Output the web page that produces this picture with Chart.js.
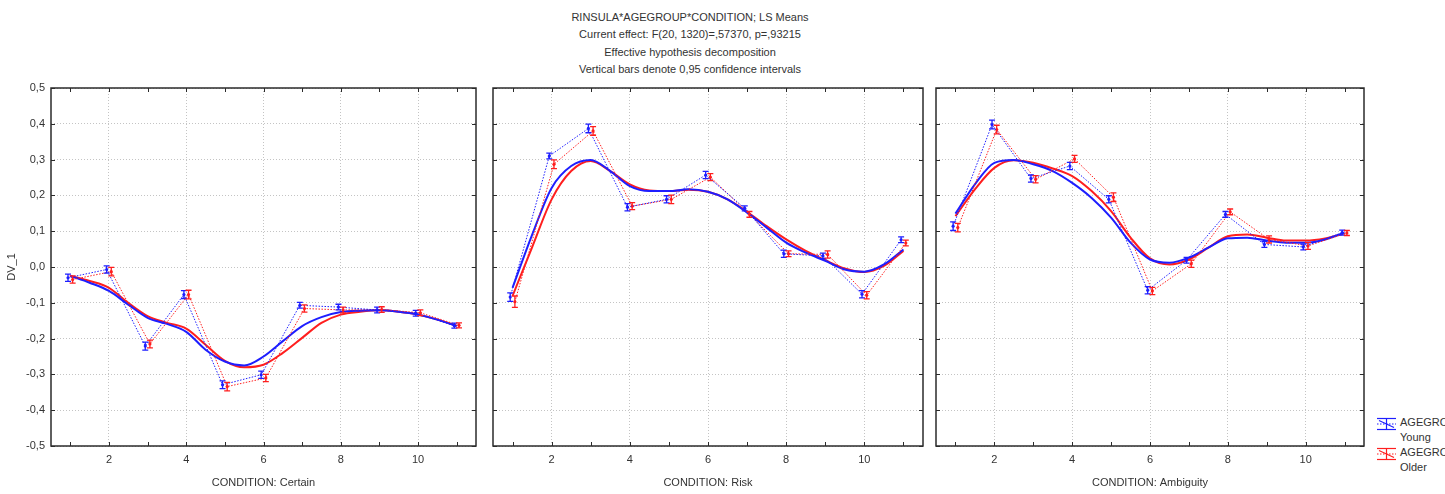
<!DOCTYPE html>
<html lang="en">
<head>
    <meta charset="UTF-8">
    <title>RINSULA*AGEGROUP*CONDITION; LS Means</title>
    <script src="https://cdn.jsdelivr.net/npm/chart.js"></script>
    <style>
        body {
            margin: 0;
            width: 1445px;
            height: 494px;
            overflow: hidden;
            background: #fff;
            font-family: 'Liberation Sans', Arial, sans-serif;
            color: #333;
            position: relative;
        }
        .panel { position: absolute; top: 0; height: 494px; }
        #heading {
            position: absolute;
            left: 490px;
            top: 9px;
            width: 400px;
            text-align: center;
            font-size: 11px;
            line-height: 17.4px;
        }
        #legend {
            position: absolute;
            left: 1376px;
            top: 415px;
            font-size: 11px;
            line-height: 15px;
            white-space: nowrap;
        }
        #legend .row { display: flex; align-items: flex-start; }
        #legend svg { margin-right: 3px; margin-top: 2px; flex: none; }
    </style>
</head>
<body>
    <div id="heading">
        <div>RINSULA*AGEGROUP*CONDITION; LS Means</div>
        <div>Current effect: F(20, 1320)=,57370, p=,93215</div>
        <div>Effective hypothesis decomposition</div>
        <div>Vertical bars denote 0,95 confidence intervals</div>
    </div>

    <div class="panel" style="left:0;width:480px"><canvas id="chartCertain"></canvas></div>
    <div class="panel" style="left:480px;width:450px"><canvas id="chartRisk"></canvas></div>
    <div class="panel" style="left:930px;width:440px"><canvas id="chartAmbiguity"></canvas></div>

    <div id="legend">
        <div class="row">
            <svg width="21" height="14" viewBox="0 0 21 14">
                <g stroke="rgb(30,30,255)" stroke-width="1.2" fill="none">
                    <line x1="1" y1="1.5" x2="20" y2="1.5"/>
                    <line x1="1" y1="12.5" x2="20" y2="12.5"/>
                    <line x1="10.5" y1="1.5" x2="10.5" y2="12.5"/>
                    <line x1="3" y1="3.5" x2="18" y2="10.5"/>
                    <line x1="1" y1="7" x2="20" y2="7" stroke-dasharray="1.5 1.5"/>
                </g>
            </svg>
            <div>AGEGROUP<br>Young</div>
        </div>
        <div class="row">
            <svg width="21" height="14" viewBox="0 0 21 14">
                <g stroke="rgb(255,30,30)" stroke-width="1.2" fill="none">
                    <line x1="1" y1="1.5" x2="20" y2="1.5"/>
                    <line x1="1" y1="12.5" x2="20" y2="12.5"/>
                    <line x1="10.5" y1="1.5" x2="10.5" y2="12.5"/>
                    <line x1="3" y1="3.5" x2="18" y2="10.5"/>
                    <line x1="1" y1="7" x2="20" y2="7" stroke-dasharray="1.5 1.5"/>
                </g>
            </svg>
            <div>AGEGROUP<br>Older</div>
        </div>
    </div>

    <script>
        // condition levels and the x positions where the smoothed fit was read
        const conditions = [1, 2, 3, 4, 5, 6, 7, 8, 9, 10, 11];
        const fitX = [1, 1.5, 2, 2.5, 3, 3.5, 4, 4.5, 5, 5.5, 6, 6.5, 7, 7.5, 8, 8.5, 9, 9.5, 10, 10.5, 11];
        const yTicks = [-0.5, -0.4, -0.3, -0.2, -0.1, 0, 0.1, 0.2, 0.3, 0.4, 0.5];

        // CONDITION: Certain
        const certainYoung = [-0.030, -0.007, -0.221, -0.077, -0.329, -0.301, -0.107, -0.112, -0.120, -0.129, -0.164];
        const certainOlder = [-0.035, -0.013, -0.215, -0.077, -0.334, -0.310, -0.116, -0.120, -0.119, -0.128, -0.163];
        const certainYoungErr = [0.010, 0.010, 0.011, 0.011, 0.011, 0.010, 0.008, 0.008, 0.008, 0.008, 0.007];
        const certainOlderErr = [0.010, 0.012, 0.011, 0.012, 0.012, 0.010, 0.010, 0.008, 0.008, 0.008, 0.007];
        const certainYoungFit = [-0.025, -0.044, -0.067, -0.105, -0.142, -0.159, -0.181, -0.231, -0.264, -0.275, -0.250,
                                 -0.207, -0.165, -0.140, -0.126, -0.122, -0.121, -0.125, -0.133, -0.147, -0.165];
        const certainOlderFit = [-0.025, -0.039, -0.058, -0.100, -0.137, -0.156, -0.172, -0.217, -0.262, -0.280, -0.273,
                                 -0.240, -0.198, -0.156, -0.133, -0.125, -0.121, -0.125, -0.133, -0.147, -0.164];

        // CONDITION: Risk
        const riskYoung = [-0.084, 0.310, 0.387, 0.167, 0.189, 0.257, 0.164, 0.037, 0.031, -0.076, 0.076];
        const riskOlder = [-0.097, 0.287, 0.380, 0.170, 0.189, 0.251, 0.147, 0.037, 0.035, -0.079, 0.067];
        const riskYoungErr = [0.012, 0.008, 0.012, 0.010, 0.010, 0.010, 0.007, 0.010, 0.008, 0.010, 0.008];
        const riskOlderErr = [0.016, 0.012, 0.012, 0.010, 0.012, 0.010, 0.008, 0.008, 0.010, 0.010, 0.008];
        const riskYoungFit = [-0.058, 0.090, 0.221, 0.282, 0.299, 0.268, 0.226, 0.212, 0.212, 0.217, 0.210,
                              0.189, 0.152, 0.110, 0.068, 0.040, 0.017, -0.007, -0.013, 0.007, 0.049];
        const riskOlderFit = [-0.081, 0.055, 0.189, 0.268, 0.296, 0.268, 0.231, 0.214, 0.212, 0.216, 0.210,
                              0.189, 0.154, 0.114, 0.077, 0.045, 0.019, -0.004, -0.014, 0.003, 0.045];

        // CONDITION: Ambiguity
        const ambiguityYoung = [0.114, 0.398, 0.247, 0.282, 0.189, -0.065, 0.019, 0.147, 0.063, 0.056, 0.096];
        const ambiguityOlder = [0.110, 0.384, 0.245, 0.302, 0.195, -0.067, 0.009, 0.154, 0.077, 0.059, 0.095];
        const ambiguityYoungErr = [0.012, 0.012, 0.010, 0.010, 0.010, 0.010, 0.008, 0.008, 0.008, 0.008, 0.007];
        const ambiguityOlderErr = [0.012, 0.012, 0.010, 0.010, 0.012, 0.010, 0.010, 0.008, 0.010, 0.010, 0.007];
        const ambiguityYoungFit = [0.149, 0.231, 0.291, 0.299, 0.287, 0.268, 0.235, 0.193, 0.138, 0.068, 0.021,
                                   0.012, 0.026, 0.054, 0.080, 0.082, 0.074, 0.068, 0.068, 0.077, 0.096];
        const ambiguityOlderFit = [0.142, 0.217, 0.277, 0.298, 0.291, 0.275, 0.254, 0.212, 0.156, 0.082, 0.024,
                                   0.007, 0.021, 0.054, 0.086, 0.091, 0.082, 0.074, 0.074, 0.080, 0.094];

        const BLUE = 'rgb(30, 30, 255)';
        const RED = 'rgb(255, 30, 30)';

        Chart.defaults.font.family = "'Liberation Sans', Arial, sans-serif";
        Chart.defaults.font.size = 11;
        Chart.defaults.color = '#333';

        // error bars for the mean series, drawn through the chart's own scales
        const errorBars = {
            id: 'errorBars',
            afterDatasetsDraw(chart) {
                const { ctx, scales: { x, y } } = chart;
                chart.data.datasets.forEach(ds => {
                    if (!ds.errors) return;
                    ctx.save();
                    ctx.strokeStyle = ds.borderColor;
                    ctx.lineWidth = 1.3;
                    ds.data.forEach((pt, i) => {
                        const px = x.getPixelForValue(pt.x);
                        const top = y.getPixelForValue(pt.y + ds.errors[i]);
                        const bot = y.getPixelForValue(pt.y - ds.errors[i]);
                        ctx.beginPath();
                        ctx.moveTo(px, top); ctx.lineTo(px, bot);
                        ctx.moveTo(px - 3, top); ctx.lineTo(px + 3, top);
                        ctx.moveTo(px - 3, bot); ctx.lineTo(px + 3, bot);
                        ctx.stroke();
                    });
                    ctx.restore();
                });
            }
        };

        // closed frame with short inward tick marks on all four sides
        const frame = {
            id: 'frame',
            afterDraw(chart) {
                const { ctx, chartArea: a, scales: { x, y } } = chart;
                ctx.save();
                ctx.strokeStyle = '#2b2b2b';
                ctx.lineWidth = 1.5;
                ctx.strokeRect(a.left, a.top, a.right - a.left, a.bottom - a.top);
                ctx.lineWidth = 1;
                ctx.beginPath();
                x.ticks.forEach(t => {
                    const px = Math.round(x.getPixelForValue(t.value)) + 0.5;
                    ctx.moveTo(px, a.top); ctx.lineTo(px, a.top + 4);
                    ctx.moveTo(px, a.bottom); ctx.lineTo(px, a.bottom - 4);
                });
                y.ticks.forEach(t => {
                    const py = Math.round(y.getPixelForValue(t.value)) + 0.5;
                    ctx.moveTo(a.left, py); ctx.lineTo(a.left + 4, py);
                    ctx.moveTo(a.right, py); ctx.lineTo(a.right - 4, py);
                });
                ctx.stroke();
                ctx.restore();
            }
        };

        function meanSeries(values, errors, shift, color) {
            return {
                type: 'line',
                data: conditions.map((c, i) => ({ x: c + shift, y: values[i] })),
                errors: errors,
                borderColor: color,
                backgroundColor: color,
                borderWidth: 1,
                borderDash: [1.5, 1.5],
                pointRadius: 1.6,
                pointBorderWidth: 0,
                tension: 0
            };
        }

        function fitSeries(values, color) {
            return {
                type: 'line',
                data: fitX.map((c, i) => ({ x: c, y: values[i] })),
                borderColor: color,
                borderWidth: 2,
                pointRadius: 0,
                cubicInterpolationMode: 'monotone'
            };
        }

        function makePanel(id, title, young, older, youngErr, olderErr, youngFit, olderFit, axisWidth, padRight, showY) {
            new Chart(document.getElementById(id), {
                type: 'line',
                data: {
                    datasets: [
                        meanSeries(young, youngErr, -0.06, BLUE),
                        meanSeries(older, olderErr, 0.06, RED),
                        fitSeries(youngFit, BLUE),
                        fitSeries(olderFit, RED)
                    ]
                },
                options: {
                    responsive: true,
                    maintainAspectRatio: false,
                    animation: false,
                    events: [],
                    layout: { padding: { top: 88, right: padRight, bottom: 0, left: 0 } },
                    plugins: { legend: { display: false }, tooltip: { enabled: false } },
                    scales: {
                        x: {
                            type: 'linear',
                            min: 0.5,
                            max: 11.5,
                            afterBuildTicks: s => { s.ticks = conditions.map(v => ({ value: v })); },
                            afterFit: s => { s.height = 48; },
                            ticks: {
                                padding: 7,
                                maxRotation: 0,
                                autoSkip: false,
                                callback: v => (v % 2 === 0 ? String(v) : '')
                            },
                            grid: {
                                drawTicks: false,
                                lineWidth: 1,
                                color: c => (c.tick && c.tick.value % 2 === 0 ? '#c4c4c4' : 'rgba(0,0,0,0)')
                            },
                            border: { display: false, dash: [1, 2] },
                            title: {
                                display: true,
                                text: 'CONDITION: ' + title,
                                padding: { top: 0, bottom: 4 }
                            }
                        },
                        y: {
                            min: -0.5,
                            max: 0.5,
                            afterBuildTicks: s => { s.ticks = yTicks.map(v => ({ value: v })); },
                            afterFit: s => { s.width = axisWidth; },
                            ticks: {
                                display: showY,
                                padding: 6,
                                callback: v => v.toFixed(1).replace('.', ',')
                            },
                            grid: {
                                drawTicks: false,
                                lineWidth: 1,
                                color: '#c4c4c4'
                            },
                            border: { display: false, dash: [1, 2] },
                            title: {
                                display: showY,
                                text: 'DV_1',
                                padding: { top: 5, bottom: 0 }
                            }
                        }
                    }
                },
                plugins: [errorBars, frame]
            });
        }

        makePanel('chartCertain', 'Certain', certainYoung, certainOlder, certainYoungErr, certainOlderErr,
                  certainYoungFit, certainOlderFit, 51, 4, true);
        makePanel('chartRisk', 'Risk', riskYoung, riskOlder, riskYoungErr, riskOlderErr,
                  riskYoungFit, riskOlderFit, 13, 7, false);
        makePanel('chartAmbiguity', 'Ambiguity', ambiguityYoung, ambiguityOlder, ambiguityYoungErr, ambiguityOlderErr,
                  ambiguityYoungFit, ambiguityOlderFit, 6, 6, false);
    </script>
</body>
</html>
